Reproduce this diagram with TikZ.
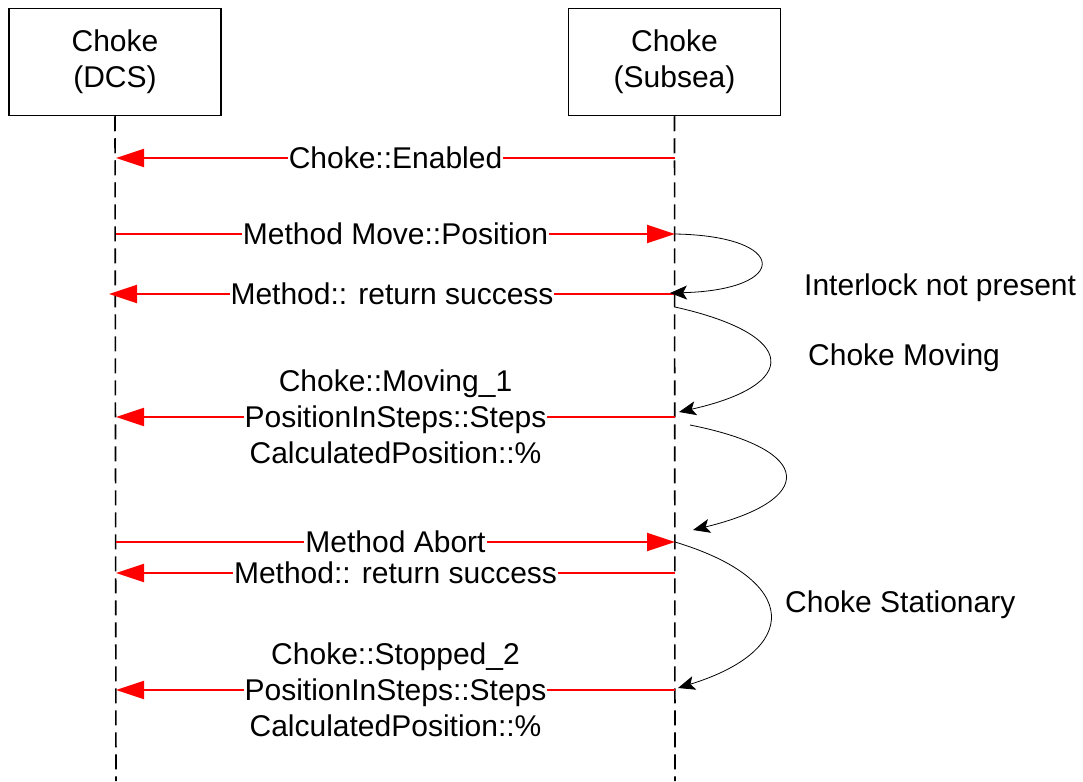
\documentclass[tikz,border=0pt]{standalone}
\usepackage{fontspec}
\setmainfont{Liberation Sans}
\usetikzlibrary{arrows.meta}
\begin{document}
\begin{tikzpicture}[x=1pt,y=-1pt,
  every node/.style={font=\fontsize{30}{36}\selectfont},
  actor/.style={draw, line width=1.5pt, minimum width=212pt, minimum height=107pt,
    align=center, inner sep=0pt},
  lifeline/.style={line width=1.6pt, dash pattern=on 15pt off 7pt},
  msg/.style={draw=red, line width=2pt, -{Triangle[length=28pt,width=18pt,fill=red]}},
  msglabel/.style={fill=white, inner sep=1pt, align=center},
  selfcall/.style={line width=0.8pt, -{Stealth[length=17pt,width=14pt,inset=4pt]}},
  note/.style={anchor=west, inner sep=0pt}]
\useasboundingbox (0,0) rectangle (1083,781);

% actors
\node[actor] (dcs) at (115,62) {Choke\\(DCS)};
\node[actor] (sub) at (674.5,62) {Choke\\(Subsea)};

% lifeline ends
\coordinate (dcsEnd) at (116,781);
\coordinate (subEnd) at (675,781);
\draw[lifeline] (dcs.south) -- (dcsEnd);
\draw[lifeline] (sub.south) -- (subEnd);

% message anchor points on the lifelines
\coordinate (s1) at (675,158); \coordinate (d1) at (116,158);
\coordinate (d2) at (116,234); \coordinate (s2) at (675,234);
\coordinate (s3) at (675,294); \coordinate (d3) at (109,294);
\coordinate (s4) at (675,417); \coordinate (d4) at (116,417);
\coordinate (d5) at (116,542); \coordinate (s5) at (675,542);
\coordinate (s6) at (675,573); \coordinate (d6) at (116,573);
\coordinate (s7) at (675,690); \coordinate (d7) at (116,690);

% messages
\draw[msg] (s1) -- node[msglabel] (m1) {Choke::Enabled} (d1);
\draw[msg] (d2) -- node[msglabel] (m2) {Method Move::Position} (s2);
\draw[msg] (s3) -- node[msglabel] (m3) {Method:: return success} (d3);
\draw[msg] (s4) -- node[msglabel] (m4) {Choke::Moving\_1\\PositionInSteps::Steps\\CalculatedPosition::\%} (d4);
\draw[msg] (d5) -- node[msglabel] (m5) {Method Abort} (s5);
\draw[msg] (s6) -- node[msglabel] (m6) {Method:: return success} (d6);
\draw[msg] (s7) -- node[msglabel] (m7) {Choke::Stopped\_2\\PositionInSteps::Steps\\CalculatedPosition::\%} (d7);

% state transitions on the subsea side
\coordinate (a0) at (675,234); \coordinate (a1) at (670,293);
\coordinate (b0) at (675,307); \coordinate (b1) at (679,412);
\coordinate (c0) at (690,425); \coordinate (c1) at (693,530);
\coordinate (e0) at (675,542); \coordinate (e1) at (678,688);
\draw[selfcall] (a0) .. controls (790,236) and (790,290) .. (a1);
\draw[selfcall] (b0) .. controls (800,335) and (800,385) .. (b1);
\draw[selfcall] (c0) .. controls (816,450) and (816,500) .. (c1);
\draw[selfcall] (e0) .. controls (801,580) and (801,650) .. (e1);

% state notes
\node[note] (n1) at (804,288) {Interlock not present};
\node[note] (n2) at (808,358) {Choke Moving};
\node[note] (n3) at (785,605) {Choke Stationary};
\end{tikzpicture}
\end{document}
